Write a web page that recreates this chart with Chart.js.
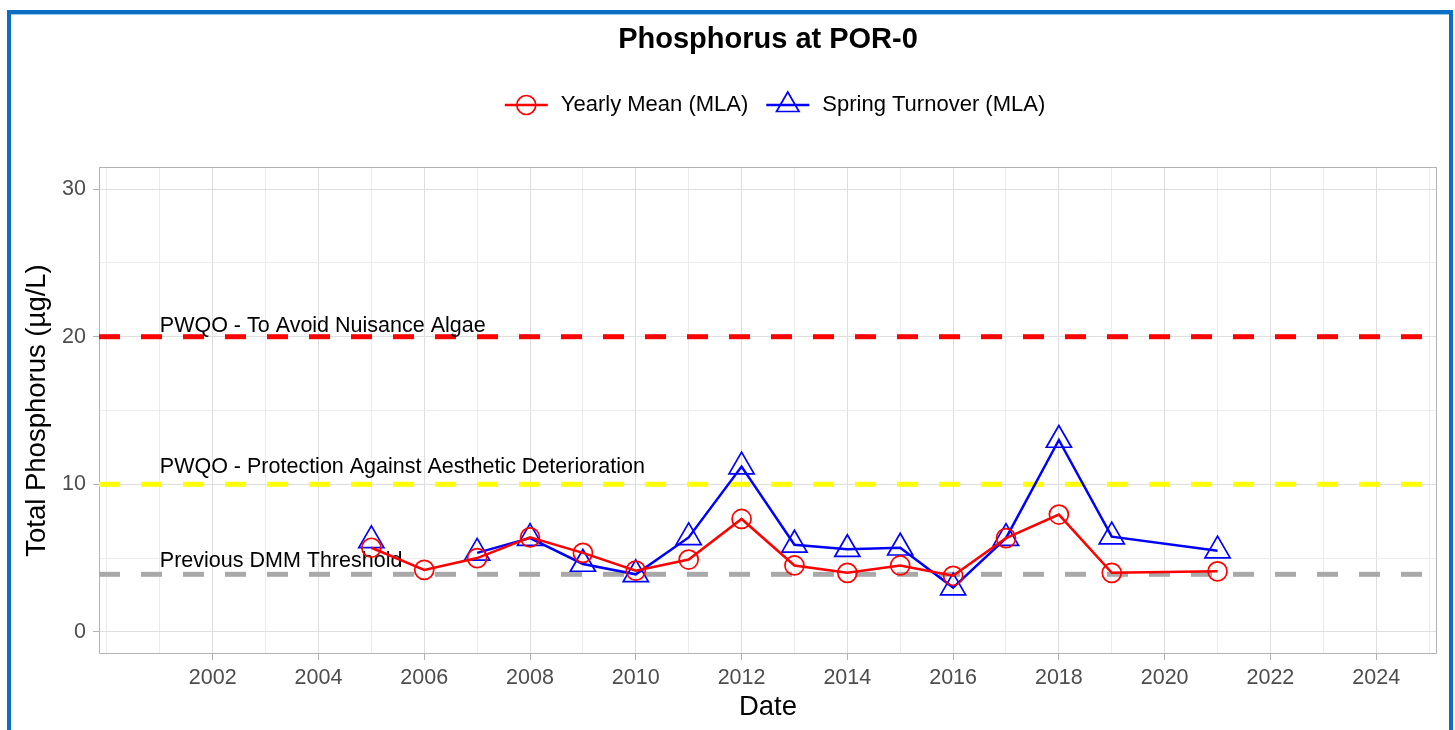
<!DOCTYPE html>
<html>
<head>
<meta charset="utf-8">
<title>Phosphorus at POR-0</title>
<script src="https://cdn.jsdelivr.net/npm/chart.js@4/dist/chart.umd.min.js"></script>
<style>
    html, body { margin: 0; padding: 0; background: #fff; }
    body { width: 1455px; height: 730px; overflow: hidden; position: relative; }
    #chart { position: absolute; left: 0; top: 0; }
    #frame {
        position: absolute; left: 7px; top: 10px; width: 1438px; height: 800px;
        border: 4px solid #0a6fc2; box-shadow: inset 0 1px 0 #9cc8ec;
        pointer-events: none;
    }
</style>
</head>
<body>
<canvas id="chart" width="1455" height="730"></canvas>
<div id="frame"></div>
<script>
// Data
const years = [2005, 2006, 2007, 2008, 2009, 2010, 2011, 2012, 2013, 2014, 2015, 2016, 2017, 2018, 2019, 2021];
const yearlyMean = [5.7, 4.2, 5.0, 6.4, 5.35, 4.15, 4.9, 7.65, 4.5, 4.0, 4.5, 3.8, 6.35, 7.95, 4.0, 4.1];
const springTurnover = [6.2, null, 5.35, 6.35, 4.6, 3.9, 6.4, 11.2, 5.9, 5.6, 5.7, 3.0, 6.35, 13.0, 6.45, 5.5];

const xTicks = [2000, 2001, 2002, 2003, 2004, 2005, 2006, 2007, 2008, 2009, 2010, 2011, 2012,
                2013, 2014, 2015, 2016, 2017, 2018, 2019, 2020, 2021, 2022, 2023, 2024, 2025];
const xTickLabels = [2002, 2004, 2006, 2008, 2010, 2012, 2014, 2016, 2018, 2020, 2022, 2024];
const yTicks = [0, 5, 10, 15, 20, 25, 30];
const yTickLabels = [0, 10, 20, 30];

const thresholdValues = [20, 10, 3.9];
const thresholdNames = ['PWQO - To Avoid Nuisance Algae',
                        'PWQO - Protection Against Aesthetic Deterioration',
                        'Previous DMM Threshold'];
const thresholdColors = ['#ff0000', '#ffff00', '#a9a9a9'];

const FONT = '"Liberation Sans", Arial, sans-serif';
const LABEL_YEAR = 2001;
const LABEL_VALUES = [20.8, 11.3, 4.9];

document.addEventListener("DOMContentLoaded", () => {
    const ctx = document.getElementById('chart').getContext('2d');

    const majorGrid = '#dedede';
    const minorGrid = '#ececec';

    // Dashed guide lines, their labels and the panel border
    const guides = {
        id: 'guides',
        beforeDatasetsDraw(chart) {
            const { ctx, chartArea: a, scales: { x, y } } = chart;
            ctx.save();
            ctx.strokeStyle = '#b3b3b3';
            ctx.lineWidth = 1;
            ctx.strokeRect(a.left + 0.5, a.top + 0.5, a.width - 1, a.height - 1);

            ctx.lineWidth = 5;
            ctx.setLineDash([21, 21]);
            thresholdValues.forEach((v, i) => {
                const py = y.getPixelForValue(v);
                ctx.strokeStyle = thresholdColors[i];
                ctx.beginPath();
                ctx.moveTo(a.left, py);
                ctx.lineTo(a.right, py);
                ctx.stroke();
            });
            ctx.setLineDash([]);

            ctx.fillStyle = '#000';
            ctx.font = '21.5px ' + FONT;
            ctx.textAlign = 'left';
            ctx.textBaseline = 'alphabetic';
            thresholdNames.forEach((t, i) => {
                ctx.fillText(t, x.getPixelForValue(LABEL_YEAR), y.getPixelForValue(LABEL_VALUES[i]) + 7.5);
            });
            ctx.restore();
        },
        afterDraw(chart) {
            const { ctx, chartArea: a } = chart;
            const cx = (a.left + a.right) / 2;
            ctx.save();

            // Title
            ctx.fillStyle = '#000';
            ctx.font = 'bold 29px ' + FONT;
            ctx.textAlign = 'center';
            ctx.textBaseline = 'middle';
            ctx.fillText('Phosphorus at POR-0', cx, 40);

            // Legend: key line with marker, then label
            const items = chart.data.datasets;
            ctx.font = '22px ' + FONT;
            const keyW = 43, keyGap = 13, itemGap = 18;
            const widths = items.map(d => ctx.measureText(d.label).width);
            const total = widths.reduce((s, w) => s + w + keyW + keyGap, 0) + itemGap * (items.length - 1);
            let lx = cx + 7 - total / 2;
            const ly = 105;
            ctx.textAlign = 'left';
            items.forEach((d, i) => {
                const mx = lx + keyW / 2;
                ctx.strokeStyle = d.borderColor;
                ctx.lineWidth = 2.5;
                ctx.beginPath();
                ctx.moveTo(lx, ly);
                ctx.lineTo(lx + keyW, ly);
                ctx.stroke();
                ctx.lineWidth = 1.7;
                ctx.beginPath();
                if (d.pointStyle === 'triangle') {
                    const r = 13;
                    ctx.moveTo(mx, ly - r);
                    ctx.lineTo(mx + 0.866 * r, ly + 0.5 * r);
                    ctx.lineTo(mx - 0.866 * r, ly + 0.5 * r);
                    ctx.closePath();
                } else {
                    ctx.arc(mx, ly, 9.5, 0, Math.PI * 2);
                }
                ctx.stroke();
                ctx.fillStyle = '#000';
                ctx.fillText(d.label, lx + keyW + keyGap, ly);
                lx += keyW + keyGap + widths[i] + itemGap;
            });
            ctx.restore();
        }
    };

    new Chart(ctx, {
        type: 'line',
        data: {
            datasets: [{
                label: 'Yearly Mean (MLA)',
                data: years.map((yr, i) => ({ x: yr, y: yearlyMean[i] })),
                borderColor: '#ff0000',
                backgroundColor: 'rgba(0,0,0,0)',
                borderWidth: 2.5,
                pointStyle: 'circle',
                pointRadius: 9.5,
                pointBorderWidth: 1.7,
                pointBackgroundColor: 'rgba(0,0,0,0)',
                tension: 0
            }, {
                label: 'Spring Turnover (MLA)',
                data: years.map((yr, i) => ({ x: yr, y: springTurnover[i] })),
                borderColor: '#0000ff',
                backgroundColor: 'rgba(0,0,0,0)',
                borderWidth: 2.5,
                pointStyle: 'triangle',
                pointRadius: 14.5,
                pointBorderWidth: 1.7,
                pointBackgroundColor: 'rgba(0,0,0,0)',
                tension: 0,
                spanGaps: false
            }]
        },
        options: {
            responsive: false,
            devicePixelRatio: 1,
            animation: false,
            layout: { padding: { top: 167, right: 18, bottom: 0, left: 0 } },
            plugins: {
                legend: { display: false },
                title: { display: false },
                tooltip: { enabled: false }
            },
            scales: {
                x: {
                    type: 'linear',
                    min: 1999.85,
                    max: 2025.15,
                    afterBuildTicks: s => { s.ticks = xTicks.map(v => ({ value: v })); },
                    afterFit: s => { s.height = 76; },
                    ticks: {
                        autoSkip: false,
                        maxRotation: 0,
                        padding: 5,
                        color: '#4d4d4d',
                        font: { family: FONT, size: 21.5 },
                        callback: v => xTickLabels.includes(v) ? String(v) : ''
                    },
                    grid: {
                        color: c => xTickLabels.includes(c.tick.value) ? majorGrid : minorGrid,
                        tickColor: c => xTickLabels.includes(c.tick.value) ? '#b3b3b3' : 'rgba(0,0,0,0)',
                        tickLength: 6,
                        lineWidth: 1
                    },
                    border: { display: false },
                    title: {
                        display: true,
                        text: 'Date',
                        color: '#000',
                        font: { family: FONT, size: 27.5 },
                        padding: { top: 0, bottom: 6 }
                    }
                },
                y: {
                    type: 'linear',
                    min: -1.5,
                    max: 31.5,
                    afterBuildTicks: s => { s.ticks = yTicks.map(v => ({ value: v })); },
                    afterFit: s => { s.width = 99; },
                    ticks: {
                        padding: 7,
                        color: '#4d4d4d',
                        font: { family: FONT, size: 21.5 },
                        callback: v => yTickLabels.includes(v) ? String(v) : ''
                    },
                    grid: {
                        color: c => yTickLabels.includes(c.tick.value) ? majorGrid : minorGrid,
                        tickColor: c => yTickLabels.includes(c.tick.value) ? '#b3b3b3' : 'rgba(0,0,0,0)',
                        tickLength: 6,
                        lineWidth: 1
                    },
                    border: { display: false },
                    title: {
                        display: true,
                        text: 'Total Phosphorus (µg/L)',
                        color: '#000',
                        font: { family: FONT, size: 27.5 },
                        padding: { top: 21, bottom: 0 }
                    }
                }
            }
        },
        plugins: [guides]
    });
});
</script>
</body>
</html>
